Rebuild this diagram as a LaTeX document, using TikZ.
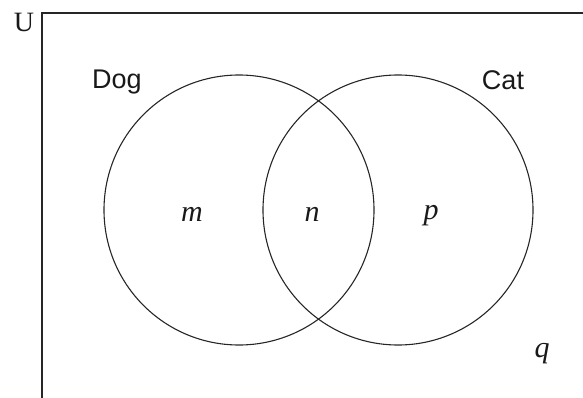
\documentclass[tikz,border=0pt]{standalone}
\usepackage{fontspec}
\setmainfont{Liberation Serif}
\newfontfamily\labelsans{Liberation Sans}
\begin{document}
\begin{tikzpicture}[x=1pt,y=1pt,
  setline/.style={draw=black!85, line width=1.1pt},
  setcircle/.style={setline, circle, minimum size=270pt, inner sep=0pt},
  setname/.style={font=\labelsans\fontsize{27}{30}\selectfont, text=black!90, inner sep=0pt},
  region/.style={font=\itshape\fontsize{30}{32}\selectfont, text=black!90, inner sep=0pt},
  univ/.style={font=\fontsize{28}{30}\selectfont, text=black!90, inner sep=0pt}]
  \useasboundingbox (0,0) rectangle (583,397);
  \clip (0,0) rectangle (583,397);
  % universal set
  \draw[setline] (42,-20) -- (42,384) -- (600,384);
  \node[univ] (U) at (24,375) {U};
  % the two sets
  \node[setcircle] (dog) at (239,187) {};
  \node[setcircle] (cat) at (398,187) {};
  \node[setname] (dogl) at (117,315) {Dog};
  \node[setname] (catl) at (503,317) {Cat};
  % region labels
  \node[region] (m) at (192,183) {m};
  \node[region] (n) at (312,183) {n};
  \node[region] (p) at (431,181) {p};
  \node[region] (q) at (542,43) {q};
\end{tikzpicture}
\end{document}
